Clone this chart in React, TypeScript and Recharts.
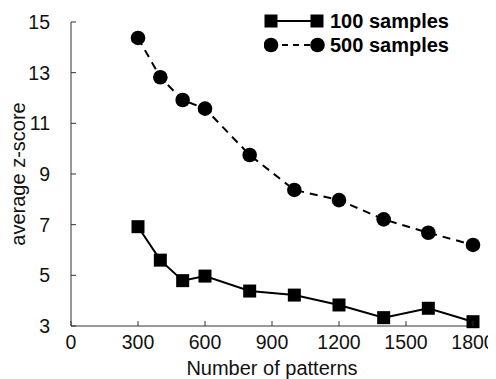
import React from 'react';
import { LineChart, Line, XAxis, YAxis } from 'recharts';

const patterns = [300, 400, 500, 600, 800, 1000, 1200, 1400, 1600, 1800];
const samples100 = [6.92, 5.6, 4.79, 4.97, 4.38, 4.22, 3.83, 3.33, 3.7, 3.17];
const samples500 = [14.37, 12.82, 11.92, 11.58, 9.75, 8.37, 7.97, 7.21, 6.68, 6.2];
const xTicks = [0, 300, 600, 900, 1200, 1500, 1800];
const yTicks = [3, 5, 7, 9, 11, 13, 15];
const seriesNames = ['100 samples', '500 samples'];

const data = patterns.map((n, i) => ({ n, s100: samples100[i], s500: samples500[i] }));

const FONT = '"Liberation Sans", Arial, Helvetica, sans-serif';
const X_MARGIN = 9;
const Y_MARGIN = 21;
const TICK_FS = 19.5;

const XTick = (p: any) => {
  const { x, y, payload } = p;
  const axisY = y - X_MARGIN;
  return (
    <g>
      <line x1={x} x2={x} y1={axisY} y2={axisY - 5} stroke="#333" strokeWidth={1} />
      <text x={x} y={y} dy="0.71em" textAnchor="middle" fontSize={TICK_FS} fontFamily={FONT} fill="#111">
        {payload.value}
      </text>
    </g>
  );
};

const YTick = (p: any) => {
  const { x, y, payload } = p;
  const axisX = x + Y_MARGIN;
  return (
    <g>
      <line x1={axisX} x2={axisX + 5} y1={y} y2={y} stroke="#333" strokeWidth={1} />
      <text x={x} y={y} dy="0.355em" textAnchor="end" fontSize={TICK_FS} fontFamily={FONT} fill="#111">
        {payload.value}
      </text>
    </g>
  );
};

const SquareDot = (p: any) => {
  const { cx, cy, index } = p;
  return <rect key={`sq-${index}`} x={cx - 6.5} y={cy - 6.5} width={13} height={13} fill="#000" />;
};

const CircleDot = (p: any) => {
  const { cx, cy, index } = p;
  return <circle key={`ci-${index}`} cx={cx} cy={cy} r={7.3} fill="#000" />;
};

const LegendBox = () => (
  <svg width={210} height={50} style={{ display: 'block' }}>
    <line x1={7} x2={53} y1={13} y2={13} stroke="#000" strokeWidth={2} />
    <rect x={0.5} y={6.5} width={13} height={13} fill="#000" />
    <rect x={46.5} y={6.5} width={13} height={13} fill="#000" />
    <text x={66} y={13} dy="0.355em" fontSize={20} fontWeight="bold" fontFamily={FONT} fill="#000">
      {seriesNames[0]}
    </text>
    <line x1={7} x2={53} y1={37} y2={37} stroke="#000" strokeWidth={2} strokeDasharray="6 5" />
    <circle cx={7} cy={37} r={7.3} fill="#000" />
    <circle cx={53.5} cy={37} r={7.3} fill="#000" />
    <text x={66} y={37} dy="0.355em" fontSize={20} fontWeight="bold" fontFamily={FONT} fill="#000">
      {seriesNames[1]}
    </text>
  </svg>
);

export default function App() {
  return (
    <div style={{ width: 488, height: 371, fontFamily: FONT, position: 'relative' }}>
      <LineChart width={488} height={371} data={data} margin={{ top: 14, right: 23, bottom: 0, left: 0 }}>
        <XAxis
          dataKey="n"
          type="number"
          domain={[0, 1800]}
          ticks={xTicks}
          height={53}
          tickSize={0}
          tickMargin={X_MARGIN}
          tickLine={false}
          tick={<XTick />}
          axisLine={{ stroke: '#333', strokeWidth: 1 }}
          label={{ value: 'Number of patterns', position: 'insideBottom', offset: 4, fontSize: 20, fontFamily: FONT, fill: '#111' }}
        />
        <YAxis
          type="number"
          domain={[3, 15]}
          ticks={yTicks}
          width={63}
          tickSize={0}
          tickMargin={Y_MARGIN}
          tickLine={false}
          tick={<YTick />}
          axisLine={{ stroke: '#333', strokeWidth: 1 }}
          label={{ value: 'average z-score', angle: -90, position: 'insideLeft', offset: 10, style: { textAnchor: 'middle' }, fontSize: 20, fontFamily: FONT, fill: '#111' }}
        />
        <Line dataKey="s100" name={seriesNames[0]} stroke="#000" strokeWidth={2} dot={SquareDot} isAnimationActive={false} />
        <Line dataKey="s500" name={seriesNames[1]} stroke="#000" strokeWidth={2} strokeDasharray="8 6" dot={CircleDot} isAnimationActive={false} />
      </LineChart>
      <div style={{ position: 'absolute', left: 256, top: 0 }}>
        <LegendBox />
      </div>
    </div>
  );
}
